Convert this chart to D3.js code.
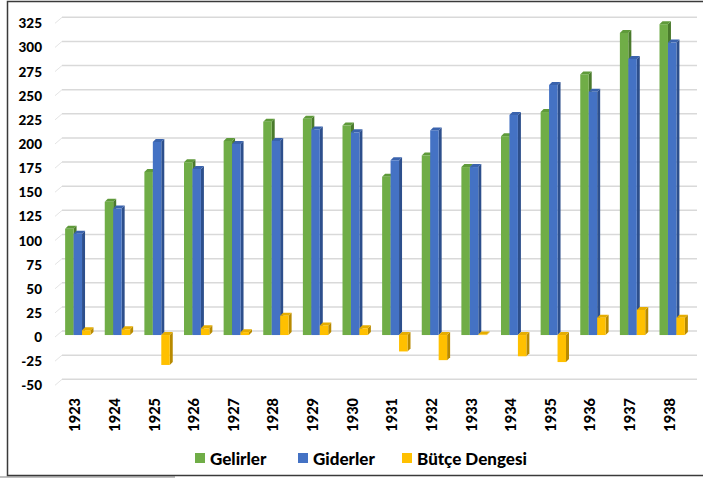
<!DOCTYPE html>
<html>
<head>
<meta charset="utf-8">
<script src="https://cdn.jsdelivr.net/npm/d3@7"></script>
<style>
  body { margin: 0; background: #fff; }
  svg { display: block; font-family: Lato, "Open Sans", sans-serif; }
</style>
</head>
<body>
<svg id="chart"></svg>
<script>
// data
var years = ["1923", "1924", "1925", "1926", "1927", "1928", "1929", "1930",
             "1931", "1932", "1933", "1934", "1935", "1936", "1937", "1938"]
var gelirler = [110, 138, 169, 179, 201, 221, 224, 217, 164, 186, 174, 206, 231, 270, 313, 322]
var giderler = [105, 131, 200, 172, 198, 201, 213, 210, 181, 212, 174, 228, 259, 252, 286, 303]
var butce    = [5, 6, -31, 7, 3, 20, 10, 7, -17, -26, 0.5, -22, -28, 18, 26, 18]
var seriesNames = ["Gelirler", "Giderler", "Bütçe Dengesi"]
var yTicks = d3.range(-50, 326, 25)

var colors = {
  "Gelirler":      {front: "#70ad47", top: "#5f9a3a", side: "#4a7a2c"},
  "Giderler":      {front: "#4472c4", top: "#3a63ad", side: "#2d4f8c"},
  "Bütçe Dengesi": {front: "#ffc000", top: "#e6ad00", side: "#b88a00"}
}

var W = 703, H = 478
var dx = 3, dy = 3   // 3d depth of bars

var svg = d3.select("#chart").attr("width", W).attr("height", H)

// frame
svg.append("rect")
    .attr("x", 0).attr("y", 476).attr("width", 175).attr("height", 2)
    .attr("fill", "#bfbfbf")
svg.append("rect")
    .attr("x", 7.5).attr("y", 1.5).attr("width", 710).attr("height", 474)
    .attr("fill", "none").attr("stroke", "#3a3a3a").attr("stroke-width", 1.5)

var y = d3.scaleLinear().domain([-50, 325]).range([383.3, 21.3])

var x0 = d3.scaleBand().domain(years).range([58, 692])
    .paddingInner(0.36).paddingOuter(0.18)

var x1 = d3.scaleBand().domain(seriesNames).range([0, x0.bandwidth()])

// gridlines (back wall + left floor edge)
var grid = svg.append("g")
grid.selectAll("line.h").data(yTicks).enter().append("line")
    .attr("class", "h")
    .attr("x1", 62).attr("x2", 697)
    .attr("y1", d => y(d) - 4).attr("y2", d => y(d) - 4)
    .attr("stroke", "#d9d9d9").attr("stroke-width", 1.5)
grid.selectAll("line.d").data(yTicks).enter().append("line")
    .attr("class", "d")
    .attr("x1", 55).attr("x2", 62)
    .attr("y1", d => y(d) + 2).attr("y2", d => y(d) - 4)
    .attr("stroke", "#e4e4e4").attr("stroke-width", 1)

// y axis labels
svg.append("g").selectAll("text").data(yTicks).enter().append("text")
    .attr("x", 42).attr("y", d => y(d) + 2)
    .attr("text-anchor", "end").attr("dominant-baseline", "central")
    .attr("font-size", 13.5).attr("font-weight", 900).attr("fill", "#000")
    .text(d => d)

// bars
var rows = years.map((yr, i) => ({
  year: yr,
  vals: [
    {name: "Gelirler", v: gelirler[i]},
    {name: "Giderler", v: giderler[i]},
    {name: "Bütçe Dengesi", v: butce[i]}
  ]
}))

var bw = x1.bandwidth()
var groups = svg.append("g").selectAll("g").data(rows).enter().append("g")
    .attr("transform", d => "translate(" + x0(d.year) + ",0)")

var bars = groups.selectAll("g").data(d => d.vals).enter().append("g")

bars.each(function (d) {
  var g = d3.select(this)
  var c = colors[d.name]
  var xl = x1(d.name), xr = xl + bw
  var yt = y(Math.max(0, d.v)), yb = y(Math.min(0, d.v))
  // side
  g.append("path")
      .attr("d", `M${xr},${yt} L${xr + dx},${yt - dy} L${xr + dx},${yb - dy} L${xr},${yb} Z`)
      .attr("fill", c.side)
  // top
  g.append("path")
      .attr("d", `M${xl},${yt} L${xl + dx},${yt - dy} L${xr + dx},${yt - dy} L${xr},${yt} Z`)
      .attr("fill", c.top)
  // front
  g.append("rect")
      .attr("x", xl).attr("y", yt)
      .attr("width", bw).attr("height", Math.max(0.5, yb - yt))
      .attr("fill", c.front)
})

// category labels (rotated)
svg.append("g").selectAll("text").data(years).enter().append("text")
    .attr("transform", d => "translate(" + (x0(d) + x0.bandwidth() / 2 - 3) + ",398) rotate(-90)")
    .attr("text-anchor", "end").attr("dominant-baseline", "central")
    .attr("font-size", 14.5).attr("font-weight", 900).attr("fill", "#000")
    .text(d => d)

// legend
var legendX = [195, 298, 402]
var legend = svg.append("g").selectAll("g").data(seriesNames).enter().append("g")
    .attr("transform", (d, i) => "translate(" + legendX[i] + ",458)")
legend.append("rect")
    .attr("x", 0).attr("y", -5).attr("width", 10).attr("height", 10)
    .attr("fill", d => colors[d].front)
legend.append("text")
    .attr("x", 15).attr("y", 0)
    .attr("dominant-baseline", "central")
    .attr("font-size", 17).attr("font-weight", 900).attr("fill", "#000")
    .text(d => d)
</script>
</body>
</html>
